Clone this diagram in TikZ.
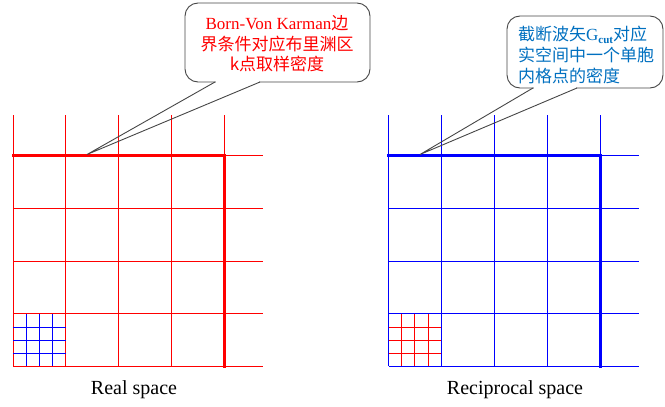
\documentclass[tikz,border=0pt]{standalone}
\usepackage{fontspec}
\setmainfont{Liberation Serif}
\newfontfamily\cjk{Noto Sans CJK SC}
\definecolor{cblue}{RGB}{0,112,192}
\definecolor{cborder}{RGB}{70,70,70}
\begin{document}
\begin{tikzpicture}[x=1pt,y=-1pt,
  redthin/.style={draw=red, line width=1pt},
  redthick/.style={draw=red, line width=3pt, line cap=rect},
  bluethin/.style={draw=blue, line width=1pt},
  bluethick/.style={draw=blue, line width=3pt, line cap=rect},
  callbox/.style={draw=cborder, fill=white, line width=0.9pt, rounded corners=13pt},
  callside/.style={draw=cborder, line width=0.9pt},
  calltext/.style={inner sep=0pt, font=\fontsize{17}{20.5}\selectfont},
  caption/.style={inner sep=0pt, font=\fontsize{20}{24}\selectfont}]
\useasboundingbox (0,0) rectangle (665,407);

% ---------- left grid (real space) ----------
\foreach \i in {0,...,4}
  \draw[redthin] (13+52.75*\i,115) -- (13+52.75*\i,366.3);
\foreach \j in {0,...,4}
  \draw[redthin] (13,155.7+52.65*\j) -- (263,155.7+52.65*\j);
\draw[redthick] (13,155.7) -- (224,155.7) -- (224,366.3);
\foreach \k in {1,2,3} {
  \draw[bluethin] (13+13.19*\k,314) -- (13+13.19*\k,366.3);
  \draw[bluethin] (13,314+13.16*\k) -- (65.75,314+13.16*\k);
}

% ---------- right grid (reciprocal space) ----------
\foreach \i in {0,...,4}
  \draw[bluethin] (388.5+52.9*\i,115) -- (388.5+52.9*\i,366.3);
\foreach \j in {0,...,4}
  \draw[bluethin] (388.5,155.7+52.65*\j) -- (639,155.7+52.65*\j);
\draw[bluethick] (388.5,155.7) -- (600,155.7) -- (600,366.3);
\foreach \k in {1,2,3} {
  \draw[redthin] (388.5+13.22*\k,314) -- (388.5+13.22*\k,366.3);
  \draw[redthin] (388.5,314+13.16*\k) -- (441.4,314+13.16*\k);
}

% ---------- captions ----------
\node[caption] (capreal) at (134,390) {Real space};
\node[caption] (caprec) at (515,390) {Reciprocal space};

% ---------- left callout ----------
\draw[callbox] (185,3) rectangle (370,82);
\draw[white, line width=2pt] (216,82) -- (259,82);
\coordinate (ltip) at (87,154.5);
\coordinate (lb1) at (215,82);
\coordinate (lb2) at (260,82);
\draw[callside] (lb1) -- (ltip) -- (lb2);
\node[calltext, text=red, align=center] (ltext) at (277,44)
  {Born-Von Karman{\cjk 边}\\{\cjk 界条件对应布里渊区}\\{\cjk k点取样密度}};

% ---------- right callout ----------
\draw[callbox] (507,16) rectangle (663,88);
\draw[white, line width=2pt] (534,88) -- (576,88);
\coordinate (rtip) at (420,154.5);
\coordinate (rb1) at (533,88);
\coordinate (rb2) at (577,88);
\draw[callside] (rb1) -- (rtip) -- (rb2);
\node[calltext, text=cblue, align=left, anchor=west, font=\fontsize{17}{21}\selectfont] (rtext) at (518,55)
  {{\cjk 截断波矢}G\raisebox{-2.5pt}{\fontsize{11}{11}\selectfont\bfseries cut}{\cjk 对应}\\{\cjk 实空间中一个单胞}\\{\cjk 内格点的密度}};
\end{tikzpicture}
\end{document}
